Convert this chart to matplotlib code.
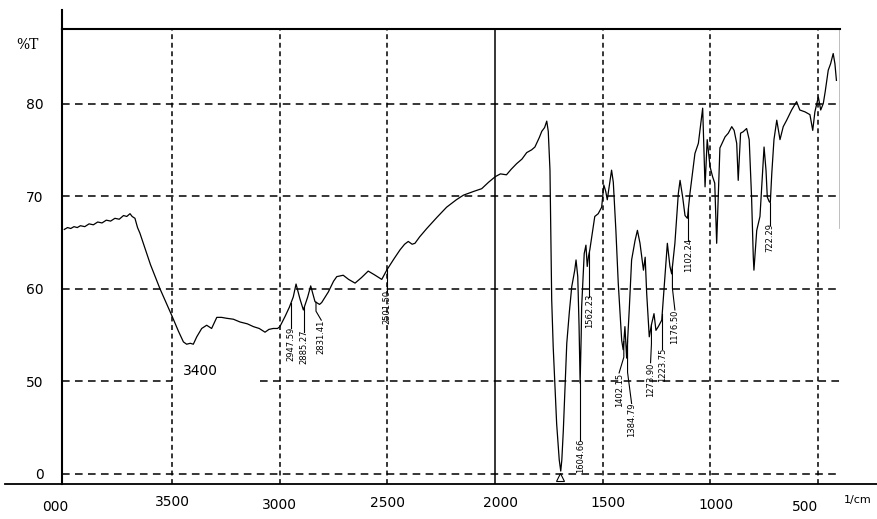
import numpy as np
import matplotlib
matplotlib.use('Agg')
import matplotlib.pyplot as plt
from matplotlib.lines import Line2D

#%% spectrum (wavenumber 1/cm, %T)
wavenumber = [4000, 3985, 3970, 3955, 3940, 3925, 3905, 3885, 3865, 3845, 3825, 3805,
              3785, 3765, 3745, 3725, 3710, 3695, 3685, 3672, 3660, 3649, 3633, 3600,
              3556, 3501, 3470, 3447, 3432, 3415, 3401, 3385, 3362, 3339, 3316, 3300,
              3292, 3270, 3246, 3215, 3184, 3150, 3122, 3095, 3068, 3050, 3030, 3010,
              2999, 2975, 2955, 2937, 2924, 2906, 2890, 2870, 2856, 2836, 2815, 2805,
              2774, 2750, 2735, 2705, 2680, 2650, 2620, 2589, 2560, 2526, 2503, 2470,
              2441, 2420, 2403, 2385, 2372, 2350, 2317, 2270, 2225, 2180, 2147, 2100,
              2062, 2030, 1999, 1975, 1947, 1925, 1900, 1875, 1853, 1830, 1815, 1795,
              1783, 1770, 1760, 1753, 1745, 1737, 1730, 1714, 1702, 1695, 1690, 1683,
              1667, 1655, 1644, 1630, 1624, 1616, 1610, 1605, 1600, 1598, 1586, 1578,
              1572, 1566, 1560, 1537, 1521, 1505, 1495, 1486, 1479, 1459, 1451, 1439,
              1428, 1412, 1405, 1397, 1389, 1377, 1366, 1350, 1339, 1327, 1311, 1303,
              1296, 1284, 1273, 1262, 1253, 1242, 1226, 1211, 1200, 1188, 1180, 1165,
              1149, 1141, 1129, 1118, 1107, 1095, 1072, 1056, 1036, 1025, 1015, 1002,
              990, 980, 971, 956, 932, 917, 901, 890, 878, 871, 860, 848,
              832, 820, 809, 801, 798, 785, 770, 757, 751, 742, 736, 727,
              722, 715, 705, 692, 677, 662, 646, 623, 600, 585, 561, 538,
              525, 515, 499, 488, 476, 467, 453, 442, 430, 422, 415]
transmittance = [66.4, 66.6, 66.5, 66.7, 66.6, 66.8, 66.7, 67.0, 66.9, 67.2, 67.1, 67.4,
                 67.3, 67.6, 67.5, 67.9, 67.8, 68.1, 67.8, 67.6, 66.6, 66.0, 64.9, 62.6,
                 60.0, 57.1, 55.4, 54.25, 54.0, 54.1, 54.0, 54.8, 55.7, 56.05, 55.7, 56.5,
                 56.9, 56.9, 56.8, 56.7, 56.4, 56.2, 55.9, 55.7, 55.3, 55.6, 55.7, 55.7,
                 55.9, 57.0, 58.0, 59.1, 60.5, 58.9, 57.7, 59.1, 60.3, 58.6, 58.3, 58.5,
                 59.65, 60.8, 61.3, 61.45, 61.0, 60.6, 61.2, 61.9, 61.5, 61.0, 62.0, 63.2,
                 64.2, 64.8, 65.1, 64.8, 64.9, 65.6, 66.5, 67.7, 68.8, 69.6, 70.1, 70.5,
                 70.8, 71.5, 72.1, 72.4, 72.3, 72.9, 73.5, 74.0, 74.7, 75.0, 75.3, 76.3,
                 77.0, 77.4, 78.1, 77.0, 72.8, 58.8, 53.7, 45.4, 41.5, 40.3, 41.5, 44.7,
                 54.1, 57.5, 60.2, 62.0, 63.1, 61.3, 56.0, 49.8, 55.0, 58.0, 63.8, 64.7,
                 62.4, 63.5, 64.2, 67.8, 68.1, 68.8, 71.2, 70.5, 69.6, 72.8, 71.5, 66.3,
                 60.6, 54.4, 53.4, 55.9, 52.5, 57.7, 63.1, 65.2, 66.3, 64.9, 62.0, 63.4,
                 59.5, 54.8, 56.2, 57.3, 55.5, 55.9, 56.6, 61.3, 64.9, 62.4, 61.6, 64.9,
                 70.3, 71.7, 69.9, 67.9, 67.6, 70.3, 74.6, 75.7, 79.5, 71.0, 76.1, 73.2,
                 72.1, 71.4, 64.9, 75.2, 76.4, 76.8, 77.5, 77.1, 75.7, 71.7, 76.8, 76.95,
                 77.3, 76.1, 69.9, 63.4, 62.0, 66.3, 67.8, 72.8, 75.3, 72.8, 69.9, 69.4,
                 69.3, 72.5, 76.1, 78.2, 76.1, 77.5, 78.2, 79.3, 80.2, 79.3, 79.1, 78.8,
                 77.1, 79.1, 80.7, 79.3, 80.0, 81.3, 83.6, 84.3, 85.4, 84.3, 82.5]

peak_wn = [2947.59, 2885.27, 2831.41, 2501.50, 1604.66, 1562.23, 1402.15,
           1384.79, 1273.90, 1223.75, 1176.50, 1102.24, 722.29]
peak_text = ['2947.59', '2885.27', '2831.41', '2501.50', '1604.66', '1562.23', '1402.15',
             '1384.79', '1273.90', '1223.75', '1176.50', '1102.24', '722.29']

x_ticks = [3500, 3000, 2500, 2000, 1500, 1000, 500]
x_ticklabels = ['3500', '3000', '2500', '2000', '1500', '1000', '500']
y_ticks = [80, 70, 60, 50, 40]
y_ticklabels = ['80', '70', '60', '50', '0']

#%% layout for the peak labels (centre of label, end of stick, label x)
lab_y = [54.0, 53.7, 54.8, 58.0, 42.0, 57.6, 49.1, 45.8, 50.2, 51.8, 55.9, 63.6, 65.5]
stick_end = [55.7, 55.3, 56.6, 59.6, 43.6, 59.1, 50.9, 47.6, 52.0, 53.5, 57.7, 65.2, 66.9]
lab_x = [2947.59, 2885.27, 2807, 2501.50, 1604.66, 1562.23, 1424,
         1366, 1278, 1223.75, 1165, 1102.24, 722.29]

W, H = 877, 519
XL, XR, YB, YT = 4010.7, 398.4, 38.9, 88.05

fig = plt.figure(figsize=(W/100, H/100), dpi=100)
ax = fig.add_axes([62/W, 1-484/H, (840-62)/W, (484-29)/H])
ax.set_xlim(XL, XR)
ax.set_ylim(YB, YT)

def xfrac(w):
    return (XL - w)/(XL - XR)

# grid
for y in [80, 70, 60, 40]:
    ax.axhline(y, color='black', lw=1.1, dashes=(5, 3.5), zorder=1)
ax.axhline(50, xmax=xfrac(3500), color='black', lw=1.1, dashes=(5, 3.5), zorder=1)
ax.axhline(50, xmin=xfrac(3091), color='black', lw=1.1, dashes=(5, 3.5), zorder=1)
for x in x_ticks:
    if x == 2000:
        ax.axvline(x, color='black', lw=1.1, zorder=1)
    else:
        ax.axvline(x, color='black', lw=1.1, dashes=(3.2, 2.4), zorder=1)

# spectrum
wn = np.array(wavenumber)
tr = np.array(transmittance)
ax.plot(wn, tr, color='black', lw=0.9, zorder=3)
ax.plot([1697], [39.7], marker='^', fillstyle='none', mew=0.8, ms=5.5,
        color='black', zorder=3)

# peak picks
for p, t, ly, se, lx in zip(peak_wn, peak_text, lab_y, stick_end, lab_x):
    cy = np.interp(p, wn[::-1], tr[::-1])
    if lx == p:
        ax.plot([p, p], [cy, se], color='black', lw=0.8, zorder=3)
    else:
        ax.plot([p, p, lx], [cy, (cy + se)/2, se], color='black', lw=0.8, zorder=3)
    ax.text(lx, ly, t, rotation=90, fontsize=6, ha='center', va='center', zorder=4)

ax.text(3370, 51.1, '3400', fontsize=10, ha='center', va='center')

# frame
for s in ['right', 'bottom']:
    ax.spines[s].set_visible(False)
ax.spines['left'].set_linewidth(1.5)
ax.spines['top'].set_linewidth(1.5)
ax.axvline(XR, ymin=(66.5-YB)/(YT-YB), color='#b4b4b4', lw=1.2)
fig.add_artist(Line2D([5/W, 1], [1-484/H, 1-484/H], color='black', lw=1.3))
fig.add_artist(Line2D([62/W, 62/W], [1-29/H, 1-10/H], color='black', lw=1.5))

# ticks
ax.set_xticks([])
ax.set_yticks(y_ticks, labels=y_ticklabels)
ax.tick_params(axis='y', length=0, pad=13.3, labelsize=10)

xlab_pos = [3500, 3000, 2500, 1977, 1475, 975, 561]
xlab_y = [-0.040, -0.046, -0.042, -0.042, -0.042, -0.046, -0.050]
trans = ax.get_xaxis_transform()
for x, lab, yy in zip(xlab_pos, x_ticklabels, xlab_y):
    ax.text(x, yy, lab, transform=trans, fontsize=10, ha='center', va='center', clip_on=False)
ax.text(4043, -0.050, '000', transform=trans, fontsize=10, ha='center', va='center', clip_on=False)
ax.text(318, -0.035, '1/cm', transform=trans, fontsize=8, ha='center', va='center', clip_on=False)
ax.text(-35/778, (484-45)/455, '%T', transform=ax.transAxes, fontsize=10,
        family='DejaVu Serif', ha='center', va='center', clip_on=False)

fig.savefig('out.png', dpi=100)
